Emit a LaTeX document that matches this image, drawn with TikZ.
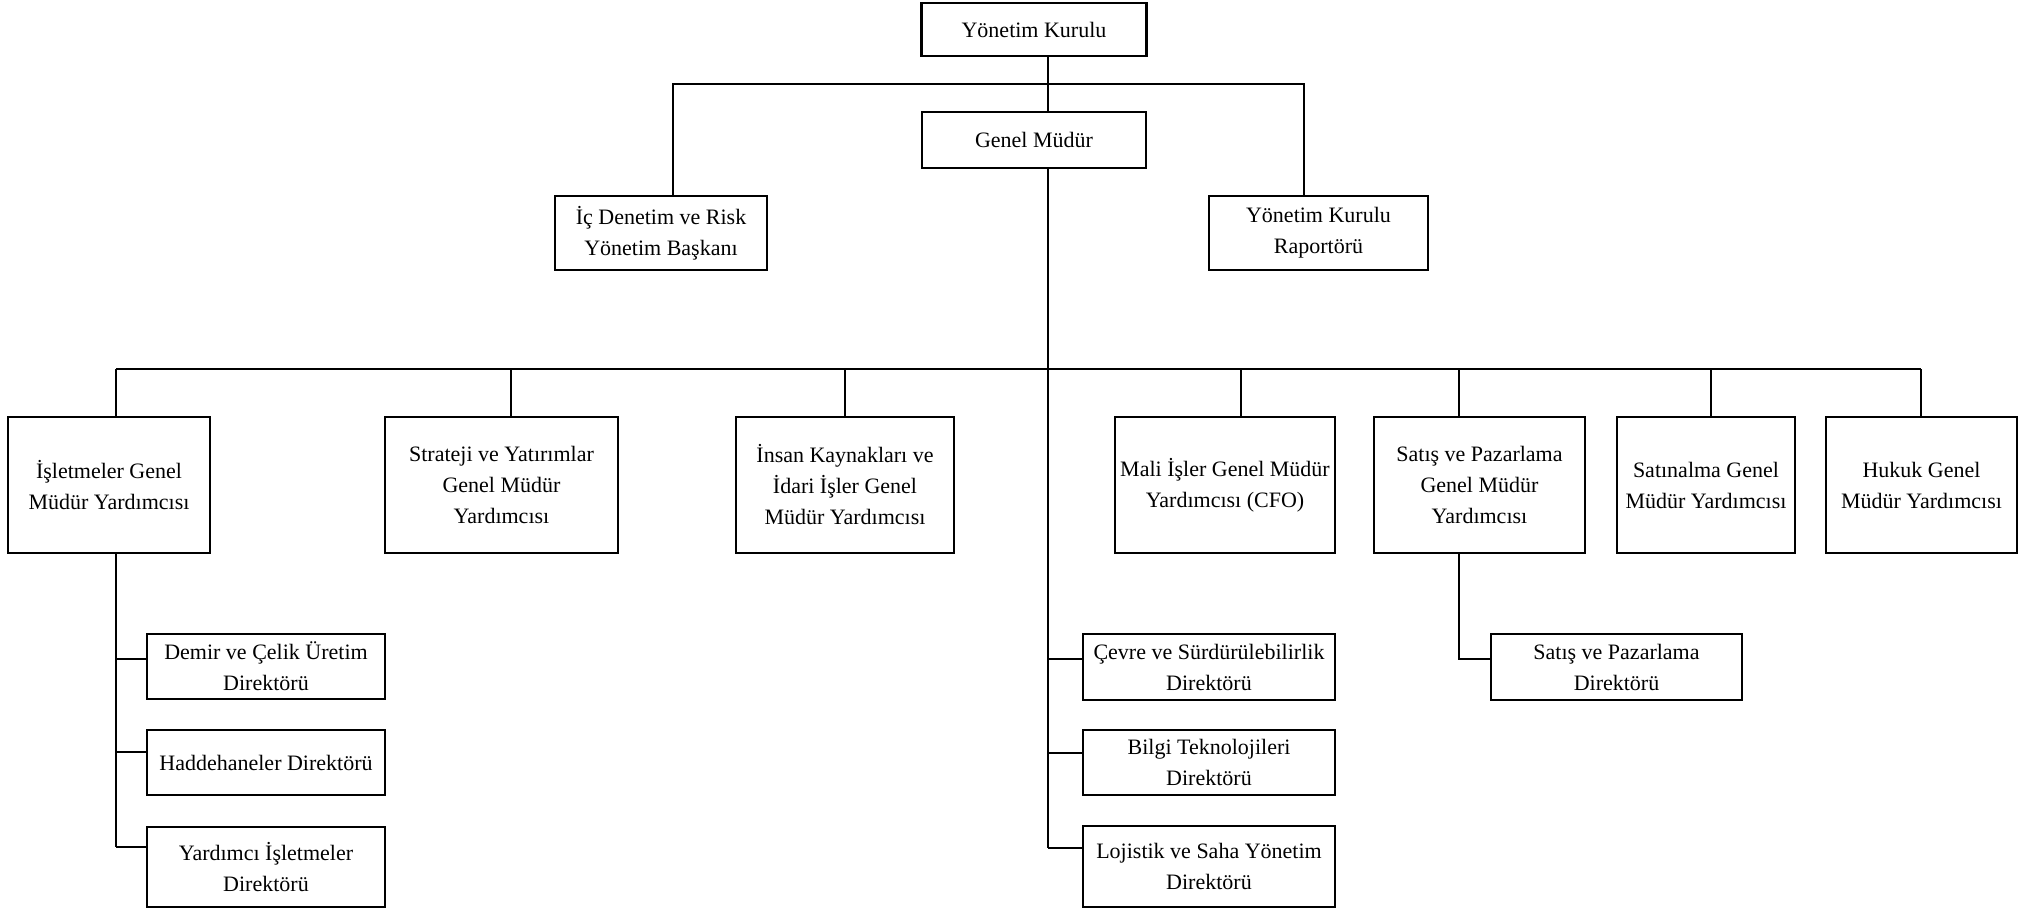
\documentclass[tikz,border=0pt]{standalone}
\usepackage{fontspec}
\setmainfont{Liberation Serif}

\tikzset{
	orgbox/.style 2 args={draw, line width=1.2pt, align=center, inner sep=1pt,
		minimum width=#1*0.5pt, minimum height=#2*0.5pt,
		font=\fontsize{11}{15.5}\selectfont},
	link/.style={line width=1.3pt}
}

\begin{document}
\begin{tikzpicture}[x=0.5pt, y=-0.5pt]
		\useasboundingbox (0,0) rectangle (2040,910);

		\node[orgbox={225}{53}] (ykurulu)   at (1034, 29.5) {Yönetim Kurulu};
		\node[orgbox={224}{56}] (genel)     at (1034, 140)  {Genel Müdür};
		\node[orgbox={212}{74}] (icdenetim) at (661, 233)   {İç Denetim ve Risk\\Yönetim Başkanı};
		\node[orgbox={219}{74}] (raportor)  at (1318.5, 233) {Yönetim Kurulu\\Raportörü};

		\node[orgbox={202}{136}] (isletmeler) at (109, 485)    {İşletmeler Genel\\Müdür Yardımcısı};
		\node[orgbox={233}{136}] (strateji)   at (501.5, 485)  {Strateji ve Yatırımlar\\Genel Müdür\\Yardımcısı};
		\node[orgbox={218}{136}] (insan)      at (845, 485)    {İnsan Kaynakları ve\\İdari İşler Genel\\Müdür Yardımcısı};
		\node[orgbox={220}{136}] (mali)       at (1225, 485)   {Mali İşler Genel Müdür\\Yardımcısı (CFO)};
		\node[orgbox={211}{136}] (satisgmy)   at (1479.5, 485) {Satış ve Pazarlama\\Genel Müdür\\Yardımcısı};
		\node[orgbox={178}{136}] (satinalma)  at (1706, 485)   {Satınalma Genel\\Müdür Yardımcısı};
		\node[orgbox={191}{136}] (hukuk)      at (1921.5, 485) {Hukuk Genel\\Müdür Yardımcısı};

		\node[orgbox={238}{65}] (demir)    at (266, 666.5)  {Demir ve Çelik Üretim\\Direktörü};
		\node[orgbox={238}{65}] (hadde)    at (266, 762.5)  {Haddehaneler Direktörü};
		\node[orgbox={238}{80}] (yardimci) at (266, 867)    {Yardımcı İşletmeler\\Direktörü};
		\node[orgbox={252}{66}] (cevre)    at (1209, 667)   {Çevre ve Sürdürülebilirlik\\Direktörü};
		\node[orgbox={252}{65}] (bilgi)    at (1209, 762.5) {Bilgi Teknolojileri\\Direktörü};
		\node[orgbox={252}{81}] (lojistik) at (1209, 866.5) {Lojistik ve Saha Yönetim\\Direktörü};
		\node[orgbox={251}{66}] (satisdir) at (1616.5, 667) {Satış ve Pazarlama\\Direktörü};

		\coordinate (cx) at (1048, 0);
		\coordinate (ic) at (673, 84);
		\coordinate (rp) at (1304, 84);
		\foreach \n/\x in {isletmeler/116, strateji/511, insan/845, mali/1241, satisgmy/1459, satinalma/1711, hukuk/1921}
			\coordinate (d\n) at (\x, 369);

		\coordinate (kdemir)    at ([yshift=3.75pt]demir.west);
		\coordinate (khadde)    at ([yshift=5.25pt]hadde.west);
		\coordinate (kyardimci) at ([yshift=10pt]yardimci.west);
		\coordinate (kcevre)    at ([yshift=4pt]cevre.west);
		\coordinate (kbilgi)    at ([yshift=4.75pt]bilgi.west);
		\coordinate (klojistik) at ([yshift=9.25pt]lojistik.west);
		\coordinate (ksatisdir) at ([yshift=4pt]satisdir.west);

		\draw[link] (ykurulu.south -| cx) -- (genel.north -| cx);
		\draw[link] (icdenetim.north -| ic) -- (ic) -- (rp) -- (raportor.north -| rp);
		\draw[link] (genel.south -| cx) -- (klojistik -| cx);
		\draw[link] (disletmeler) -- (dhukuk);
		\foreach \n in {isletmeler, strateji, insan, mali, satisgmy, satinalma, hukuk}
			\draw[link] (d\n) -- (d\n |- \n.north);

		\draw[link] (isletmeler.south -| disletmeler) -- (kyardimci -| disletmeler);
		\draw[link] (kdemir -| disletmeler) -- (kdemir);
		\draw[link] (khadde -| disletmeler) -- (khadde);
		\draw[link] (kyardimci -| disletmeler) -- (kyardimci);

		\draw[link] (kcevre -| cx) -- (kcevre);
		\draw[link] (kbilgi -| cx) -- (kbilgi);
		\draw[link] (klojistik -| cx) -- (klojistik);

		\draw[link] (satisgmy.south -| dsatisgmy) -- (ksatisdir -| dsatisgmy) -- (ksatisdir);
	\end{tikzpicture}
\end{document}
